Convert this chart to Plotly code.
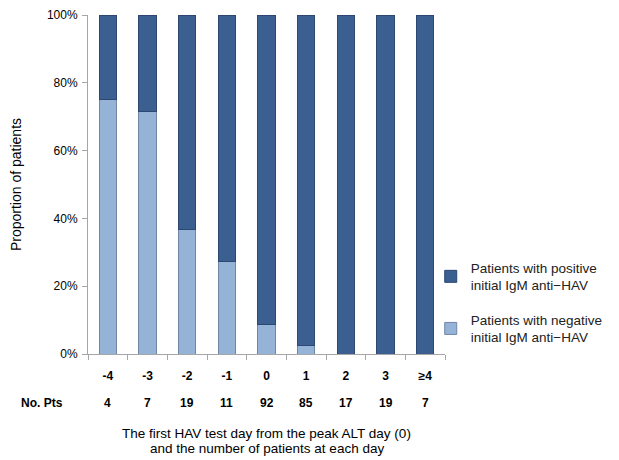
import plotly.graph_objects as go

days = ["-4", "-3", "-2", "-1", "0", "1", "2", "3", "≥4"]
n_pts = [4, 7, 19, 11, 92, 85, 17, 19, 7]
negative = [0.75, 0.714, 0.368, 0.273, 0.087, 0.024, 0.0, 0.0, 0.0]
positive = [1 - v for v in negative]
x_title = ["The first HAV test day from the peak ALT day (0)",
           "and the number of patients at each day"]

dark = "#3b5f91"
light = "#95b3d7"

fig = go.Figure()
fig.add_trace(go.Bar(x=days, y=negative, name="Patients with negative<br>initial IgM anti\u2212HAV",
                     legendgroup="neg", legendrank=2,
                     marker=dict(color=light, line=dict(color="#6f86a6", width=1))))
fig.add_trace(go.Bar(x=days, y=positive, name="Patients with positive<br>initial IgM anti\u2212HAV",
                     legendgroup="pos", legendrank=1,
                     marker=dict(color=dark, line=dict(color="#2c4770", width=1))))

for i, n in enumerate(n_pts):
    fig.add_annotation(x=i, y=0, xref="x", yref="paper", yanchor="middle", yshift=-49,
                       text="<b>%d</b>" % n, showarrow=False, font=dict(size=12, color="#000"))
fig.add_annotation(x=-0.129, y=0, xref="paper", yref="paper", xanchor="center",
                   yanchor="middle", yshift=-49,
                   text="<b>No. Pts</b>", showarrow=False, font=dict(size=12, color="#000"))
for k, line in enumerate(x_title):
    fig.add_annotation(x=0.5, y=0, xref="paper", yref="paper", xanchor="center",
                       yanchor="middle", yshift=-79 - 15 * k, text=line, showarrow=False,
                       font=dict(size=13.5, color="#000"))

fig.update_layout(
    width=611, height=452,
    margin=dict(l=80, r=174, t=7, b=106, autoexpand=False),
    barmode="stack", bargap=0.57,
    plot_bgcolor="white", paper_bgcolor="white",
    font=dict(family="Liberation Sans, Arial, sans-serif", color="#000"),
    xaxis=dict(type="category", range=[-0.5, 8.5], showline=True, linecolor="#a6a6a6", linewidth=1,
               ticks="outside", tickson="boundaries", ticklen=5, tickcolor="#a6a6a6",
               tickfont=dict(size=12, weight="bold"), ticklabelstandoff=11, automargin=False),
    yaxis=dict(range=[0, 1], tickformat=".0%", dtick=0.2, showgrid=False, automargin=False,
               showline=True, linecolor="#a6a6a6", linewidth=1, ticks="outside",
               ticklen=5, tickcolor="#a6a6a6", tickfont=dict(size=12), ticklabelstandoff=2,
               title=dict(text="Proportion of patients", font=dict(size=14), standoff=22)),
    legend=dict(x=0.96, y=0.3, xanchor="left", yanchor="top", bgcolor="rgba(0,0,0,0)",
                traceorder="grouped",
                font=dict(size=13.5, color="#222"), itemwidth=30,
                tracegroupgap=14),
)
fig.write_html("out.html")
